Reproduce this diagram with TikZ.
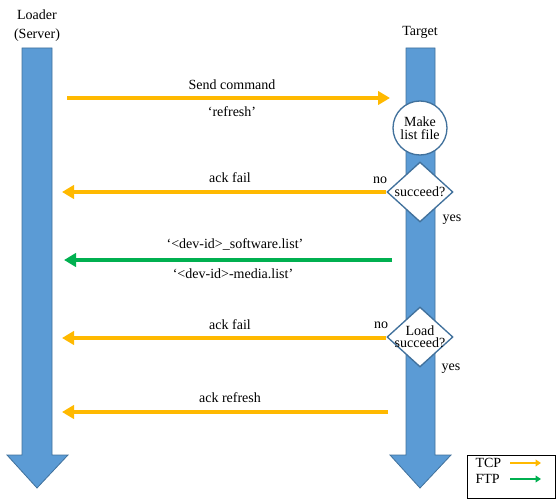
\documentclass[tikz,border=0pt]{standalone}
\usepackage{fontspec}
\setmainfont{Liberation Serif}
\usetikzlibrary{arrows.meta,shapes.geometric}
\definecolor{barblue}{HTML}{5B9BD5}
\definecolor{bardark}{HTML}{41719C}
\definecolor{tcpcol}{HTML}{FFB900}
\definecolor{ftpcol}{HTML}{00B050}
\tikzset{
  lifeline/.style={fill=barblue,draw=bardark,line width=0.6pt},
  lbl/.style={font=\fontsize{10.5}{12}\selectfont,inner sep=1pt},
  tcp/.style={draw=tcpcol,line width=3pt,-{Triangle[length=9pt,width=10pt]}},
  ftp/.style={draw=ftpcol,line width=3pt,-{Triangle[length=9pt,width=10pt]}},
  tcpkey/.style={draw=tcpcol,line width=1.5pt,-{Triangle[length=4pt,width=5pt]}},
  ftpkey/.style={draw=ftpcol,line width=1.5pt,-{Triangle[length=4pt,width=5pt]}},
  stepcircle/.style={circle,fill=white,draw=bardark,line width=1pt,minimum size=54*0.75pt,inner sep=0pt,align=center,font=\fontsize{10.5}{12}\selectfont},
  decision/.style={diamond,fill=white,draw=bardark,line width=1pt,minimum width=66*0.75pt,minimum height=60*0.75pt,inner sep=-8pt,align=center,font=\fontsize{10.5}{12}\selectfont}
}
\begin{document}
\begin{tikzpicture}[x=0.75pt,y=-0.75pt]
\useasboundingbox (0,0) rectangle (557,499);

% lifelines as block arrows
\draw[lifeline] (22,48) -- (52,48) -- (52,455) -- (68,455) -- (37,488) -- (7,455) -- (22,455) -- cycle;
\draw[lifeline] (406,48) -- (435,48) -- (435,455) -- (451,455) -- (420,488) -- (390,455) -- (406,455) -- cycle;

\node[lbl] (loader) at (37,15) {Loader};
\node[lbl] (server) at (37,35) {(Server)};
\node[lbl] (target) at (420,32) {Target};

% steps on the target side
\node[stepcircle] (make) at (420,128) {Make\\[-2pt]list file};
\node[decision] (ok1) at (420,192) {\raisebox{-2pt}{succeed?}};
\node[decision] (ok2) at (420,337) {Load\\[-3pt]succeed?};

\node[lbl] (no1) at (380,180) {no};
\node[lbl] (yes1) at (452,220) {yes};
\node[lbl] (no2) at (381,325) {no};
\node[lbl] (yes2) at (451,369) {yes};

% message end points
\coordinate (cmdL) at (67,98);
\coordinate (cmdR) at (390,98);
\coordinate (fail1L) at (62,192);
\coordinate (listR) at (392,260);
\coordinate (listL) at (64,260);
\coordinate (fail2L) at (62,338);
\coordinate (refR) at (388,412);
\coordinate (refL) at (62,412);

\draw[tcp] (cmdL) -- (cmdR);
\node[lbl] (cmd) at (232,85) {Send command};
\node[lbl] (refresh) at (232,112) {`refresh'};

\draw[tcp] (ok1.west) -- (fail1L);
\node[lbl] (fail1) at (230,178) {ack fail};

\draw[ftp] (listR) -- (listL);
\node[lbl] (sw) at (235,244) {`<dev-id>\_software.list'};
\node[lbl] (media) at (233,274) {`<dev-id>-media.list'};

\draw[tcp] (ok2.west |- fail2L) -- (fail2L);
\node[lbl] (fail2) at (230,325) {ack fail};

\draw[tcp] (refR) -- (refL);
\node[lbl] (ackref) at (230,398) {ack refresh};

% legend
\draw[line width=0.6pt] (467,455) rectangle (555,498);
\node[lbl,anchor=west] (tcpk) at (474,463) {TCP};
\node[lbl,anchor=west] (ftpk) at (474,479) {FTP};
\coordinate (tcpa) at (510,463);
\coordinate (tcpb) at (541,463);
\coordinate (ftpa) at (510,479);
\coordinate (ftpb) at (541,479);
\draw[tcpkey] (tcpa) -- (tcpb);
\draw[ftpkey] (ftpa) -- (ftpb);
\end{tikzpicture}
\end{document}
